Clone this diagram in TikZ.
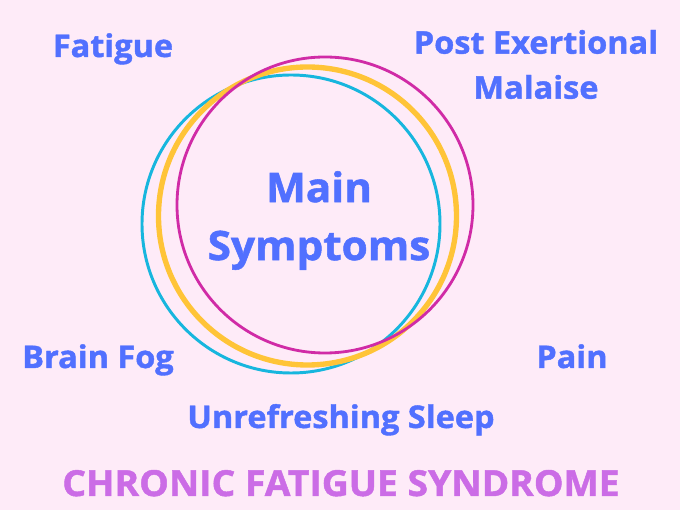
\documentclass[tikz,border=0pt]{standalone}
\usepackage{fontspec}
\setmainfont{Open Sans}[BoldFeatures={FakeBold=1.3,FakeStretch=1.04}]
\usepackage{xcolor}
\usepackage{tikz}
\definecolor{bgpink}{HTML}{FEEBF8}
\definecolor{labelblue}{HTML}{5170FF}
\definecolor{titleviolet}{HTML}{CB6CE6}
\definecolor{ringcyan}{HTML}{17B6DE}
\definecolor{ringyellow}{HTML}{FFC438}
\definecolor{ringmagenta}{HTML}{D02BA6}
\begin{document}
\begin{tikzpicture}[x=0.025cm,y=-0.025cm,
    symptom/.style={text=labelblue,font=\fontsize{22.2pt}{32pt}\selectfont\bfseries,inner sep=0pt,align=center}]
      \fill[bgpink] (0,0) rectangle (680,510);
      \useasboundingbox (0,0) rectangle (680,510);
      \draw[ringcyan,line width=2.1pt] (291,224) circle[radius=149];
      \draw[ringyellow,line width=3.8pt] (307.5,216) circle[radius=149];
      \draw[ringmagenta,line width=2pt] (325,205) circle[radius=148];
      \node[symptom,font=\fontsize{28.9pt}{41.3pt}\selectfont\bfseries] (main) at (319,220.5) {Main\\Symptoms};
      \node[symptom,anchor=base] (fatigue) at (113,57) {Fatigue};
      \node[symptom] (pem) at (536,64.5) {Post Exertional\\Malaise};
      \node[symptom,anchor=base] (fog) at (98,368) {Brain Fog};
      \node[symptom,anchor=base] (pain) at (572,368) {Pain};
      \node[symptom,anchor=base] (sleep) at (341,428) {Unrefreshing Sleep};
      \node[anchor=base,inner sep=0pt,text=titleviolet,font=\fontsize{25.5pt}{32pt}\selectfont\bfseries] (title) at (341,496) {CHRONIC FATIGUE SYNDROME};
    \end{tikzpicture}
\end{document}
